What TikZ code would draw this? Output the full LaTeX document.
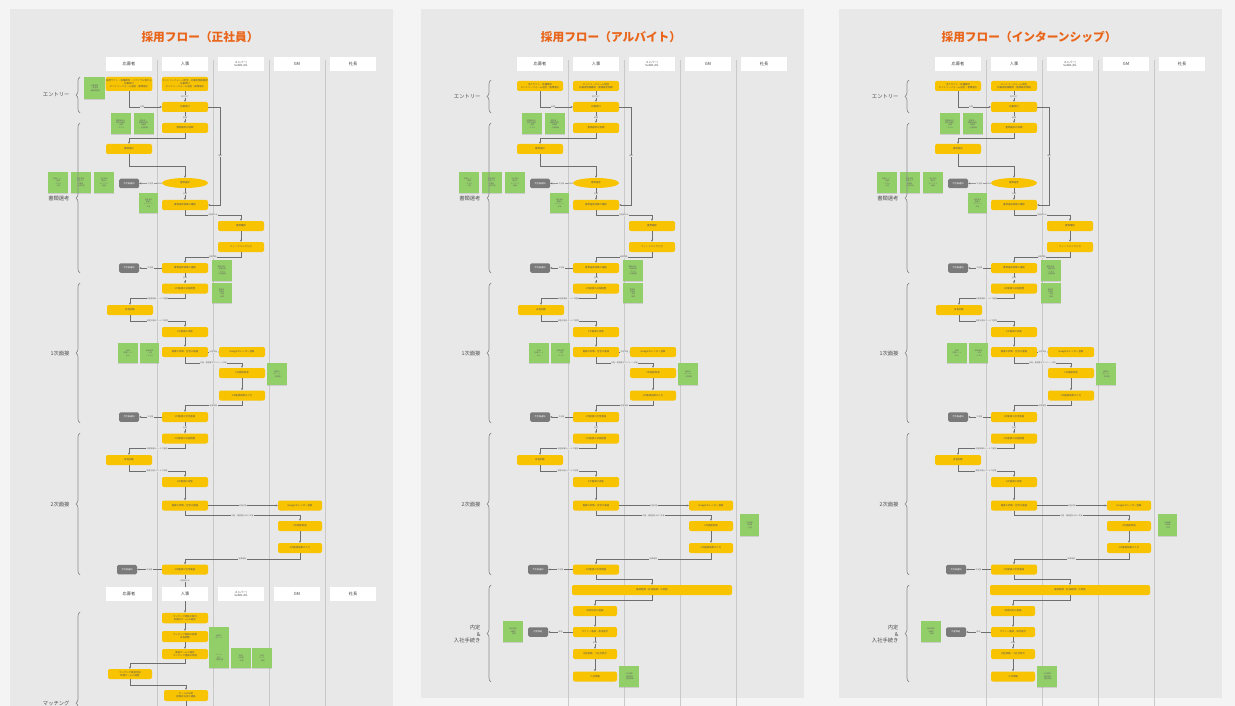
\documentclass[tikz,border=0pt]{standalone}
\usepackage{fontspec}
\setmainfont{Noto Sans CJK JP}
\usetikzlibrary{arrows.meta,decorations.pathreplacing,shadows,shapes.geometric}
\definecolor{canvas}{HTML}{F4F4F4}
\definecolor{panelbg}{HTML}{E8E8E8}
\definecolor{laneline}{HTML}{C9C9C9}
\definecolor{boxy}{HTML}{F8C300}
\definecolor{noteg}{HTML}{93CF68}
\definecolor{grayb}{HTML}{7A7A7A}
\definecolor{titleo}{HTML}{E8651A}
\definecolor{conncol}{HTML}{6E6E6E}
\tikzset{
 hdr/.style={fill=white, minimum width=46pt, minimum height=14pt, inner sep=0pt, font=\fontsize{4.2}{5}\selectfont, text=black!75, align=center},
 hdrs/.style={hdr, font=\fontsize{2.8}{3.6}\selectfont},
 yb/.style={fill=boxy, rounded corners=2pt, minimum width=46pt, minimum height=10pt, inner sep=0.5pt, font=\fontsize{2.4}{3}\selectfont, text=black!65, align=center},
 ye/.style={yb, ellipse, sharp corners},
 gb/.style={fill=grayb, rounded corners=1.5pt, minimum width=20pt, minimum height=9.5pt, inner sep=0pt, font=\fontsize{2.2}{3}\selectfont, text=white},
 note/.style={fill=noteg, minimum width=20pt, minimum height=21pt, inner sep=0.8pt, font=\fontsize{1.8}{2.4}\selectfont, text=black!60, align=center, drop shadow={shadow xshift=0.4pt, shadow yshift=-0.7pt, opacity=0.25}},
 conn/.style={draw=conncol, line width=0.5pt, -{Stealth[length=2.2pt,width=2pt]}},
 plain/.style={draw=conncol, line width=0.5pt},
 lbl/.style={fill=panelbg, inner sep=0.4pt, font=\fontsize{1.9}{2.3}\selectfont, text=black!60},
 brc/.style={draw=black!45, line width=0.7pt, decorate, decoration={brace, amplitude=4pt}},
 phase/.style={font=\fontsize{5.3}{6.5}\selectfont, text=black!70, align=right, anchor=east},
 lane/.style={draw=laneline, line width=0.9pt},
 ptitle/.style={font=\fontsize{11.7}{13}\selectfont\bfseries, text=titleo},
}
% panel frame: #1 title, #2 bottom of panel
\newcommand\panelbase[2]{%
 \fill[panelbg] (10,9) rectangle (393,#2);
 \foreach \lx in {157,213,269,325}{\draw[lane] (\lx,60) -- (\lx,706);}
 \node[ptitle] (title) at (200,37) {#1};
 \node[hdr] (h1) at (129,64) {応募者};
 \node[hdr] (h2) at (185,64) {人事};
 \node[hdrs] (h3) at (241,64) {メンバー/\\SubDL/DL};
 \node[hdr] (h4) at (297,64) {GM};
 \node[hdr] (h5) at (353,64) {社長};
}
% common flow: #1 entry y, #2 entry height, #3 applicant text, #4 HR text, #5 brace top
\newcommand\upperflow[5]{%
 \node[yb, minimum height=#2] (E1) at (129,#1) {#3};
 \node[yb, minimum height=#2] (E2) at (185,#1) {#4};
 \node[yb] (R1) at (185,107) {応募受付};
 \node[yb] (R2) at (185,128) {書類選考の依頼};
 \node[note] (N1) at (120.5,124) {書類選考の\\基準を確認\\・経験\\・スキル};
 \node[note] (N2) at (143.5,124) {履歴書・\\職務経歴書\\を確認\\・志望動機};
 \node[yb] (A1) at (129,149) {書類提出};
 \node[ye, minimum width=46pt, minimum height=10pt, inner sep=0pt] (EL) at (185,183) {書類選考};
 \node[gb] (G1) at (129,183.5) {不合格通知};
 \node[note] (N3) at (57.5,182.5) {評価シート\\・経験\\・スキル\\・人物};
 \node[note] (N4) at (80.5,182.5) {選考基準\\を満たす\\か確認\\・合否判定};
 \node[note] (N5) at (104,182.5) {不合格の\\場合は\\テンプレで\\連絡};
 \node[yb] (R3) at (185,205) {書類選考結果の確認};
 \node[note, minimum width=19pt, minimum height=20pt] (N6) at (148.5,203) {合格者の\\情報を\\メンバーへ\\共有};
 \node[yb] (M1) at (241,226) {書類確認};
 \node[yb] (M2) at (241,247) {フィードバック入力};
 \node[yb] (R4) at (185,268) {書類選考結果の連絡};
 \node[gb] (G2) at (129,268) {不合格通知};
 \node[note] (N7) at (221.5,270.5) {確認項目\\・経験年数\\・スキル\\・志望動機};
 \node[note, minimum height=20pt] (N8) at (221.5,293) {面接官\\の選定\\・日程\\・場所};
 \node[yb] (R5) at (185,288.5) {1次面接の日程調整};
 \node[yb] (A2) at (130,310) {日程回答};
 \node[yb] (R6) at (185,332) {1次面接の実施};
 \node[yb] (R7) at (185,352) {面接の評価・合否の連絡};
 \node[yb] (M3) at (242,352) {Googleカレンダー登録};
 \node[note, minimum height=20pt] (N9) at (128,353) {面接\\評価シート\\記入};
 \node[note, minimum width=19pt, minimum height=20pt] (N10) at (149.5,353) {評価基準\\・人物\\・スキル};
 \node[yb] (M4) at (242,373) {1次面接実施};
 \node[note, minimum height=22pt] (N11) at (277,374) {面接の\\ポイント\\・質問例};
 \node[yb] (M5) at (242,395.5) {1次面接結果の入力};
 \node[yb] (R8) at (185,417) {1次面接の合否連絡};
 \node[gb] (G3) at (129,417) {不合格通知};
 \node[yb] (R9) at (185,438.5) {2次面接の日程調整};
 \node[yb] (A3) at (129,460) {日程回答};
 \node[yb] (R10) at (185,482) {2次面接の実施};
 \node[yb] (R11) at (185,505.5) {面接の評価・合否の連絡};
 \node[yb, minimum width=44pt] (GM1) at (300,505.5) {Googleカレンダー登録};
 \node[yb, minimum width=44pt] (GM2) at (300,526) {2次面接実施};
 \node[yb, minimum width=44pt] (GM3) at (300,548) {2次面接結果の入力};
 \node[yb] (R12) at (185,569.5) {2次面接の合否連絡};
 \node[gb] (G4) at (127,569.5) {不合格通知};
 % connectors
 \draw[conn] (E2) -- node[lbl]{受付完了} (R1);
 \draw[conn] (E1.south) |- node[lbl,pos=0.7]{応募} (R1.west);
 \draw[conn] (R1.east) -- ++(12,0) |- node[lbl,pos=0.25]{選考} (R3.east);
 \draw[conn] (R1) -- node[lbl]{依頼} (R2);
 \draw[conn] (R2.south) -- ++(0,5) -| (A1.north);
 \draw[conn] (A1.south) -- ++(0,12) -| (EL.north);
 \draw[conn] (EL) -- node[lbl]{不合格} (G1);
 \draw[conn] (EL) -- node[lbl]{合格} (R3);
 \draw[conn] (R3.south) -- ++(0,5) -| node[lbl,pos=0.25]{合格者のみ} (M1.north);
 \draw[conn] (M1) -- (M2);
 \draw[conn] (M2.south) -- ++(0,5) -| node[lbl,pos=0.25]{結果報告} (R4.north);
 \draw[conn] (R4) -- node[lbl]{不合格} (G2);
 \draw[conn] (R4) -- node[lbl]{合格} (R5);
 \draw[conn] (R5.south) -- ++(0,5) -| node[lbl,pos=0.25]{日程候補をメールで連絡} (A2.north);
 \draw[conn] (A2.south) -- ++(0,6) -| node[lbl,pos=0.25]{希望日程をメールで回答} (R6.north);
 \draw[conn] (R6) -- (R7);
 \draw[conn] (R7) -- node[lbl]{日程共有} (M3);
 \draw[conn] (R7.south) -- ++(0,6) -| node[lbl,pos=0.25]{日程・履歴書をメンバーへ共有} (M4.north);
 \draw[conn] (M4) -- (M5);
 \draw[conn] (M5.south) -- ++(0,5) -| node[lbl,pos=0.25]{結果報告} (R8.north);
 \draw[conn] (R8) -- node[lbl]{不合格} (G3);
 \draw[conn] (R8) -- node[lbl]{合格} (R9);
 \draw[conn] (R9.south) -- ++(0,5) -| node[lbl,pos=0.25]{日程候補をメールで連絡} (A3.north);
 \draw[conn] (A3.south) -- ++(0,6) -| node[lbl,pos=0.25]{希望日程をメールで回答} (R10.north);
 \draw[conn] (R10) -- (R11);
 \draw[conn] (R11) -- node[lbl]{日程共有} (GM1);
 \draw[conn] (R11.south) -- ++(0,5) -| node[lbl,pos=0.25]{日程・履歴書をGMへ共有} (GM2.north);
 \draw[conn] (GM2) -- (GM3);
 \draw[conn] (GM3.south) -- ++(0,6) -| node[lbl,pos=0.25]{結果報告} (R12.north);
 \draw[conn] (R12) -- node[lbl]{不合格} (G4);
 % phases
 \draw[brc] (80,113) -- (80,#5);
 \node[phase] (ph1) at (73,{(113+#5)/2}) {エントリー};
 \draw[brc] (80,273) -- (80,123);
 \node[phase] (ph2) at (73,198) {書類選考};
 \draw[brc] (80,423) -- (80,283);
 \node[phase] (ph3) at (73,353) {1次面接};
 \draw[brc] (80,575) -- (80,433);
 \node[phase] (ph4) at (73,504) {2次面接};
}
% lower part, part-time / internship
\newcommand\lowerB{%
 \node[note, minimum width=19pt, minimum height=22pt] (N12) at (338.5,525) {GM面接\\の評価\\・合否};
 \node[yb, minimum width=160pt] (W) at (241,590) {最終面接（社長面接）の実施};
 \node[yb, minimum width=44pt] (P1) at (184,611) {採用決定の連絡};
 \node[yb, minimum width=44pt] (P2) at (184,632) {オファー面談・条件提示};
 \node[gb] (G5) at (127,632) {内定辞退};
 \node[note] (N13) at (102,631.5) {辞退理由\\の確認\\・記録};
 \node[yb, minimum width=44pt] (P3) at (184,654) {内定承諾・入社手続き};
 \node[yb, minimum width=44pt] (P4) at (184,676.5) {入社準備};
 \node[note] (N14) at (218,676.5) {入社書類\\・雇用契約\\・備品準備};
 \draw[conn] (R12.south) -- ++(0,5) -| (W.north);
 \draw[conn] (W.south) -- ++(0,5) -| (P1.north);
 \draw[conn] (P1) -- (P2);
 \draw[conn] (P2) -- node[lbl]{辞退} (G5);
 \draw[conn] (P2) -- node[lbl]{承諾} (P3);
 \draw[conn] (P3) -- (P4);
 \draw[brc] (80,682) -- (80,585);
 \node[phase] (ph5) at (73,634) {内定\\\&\\入社手続き};
}
\begin{document}
\begin{tikzpicture}[x=1pt,y=-1pt]
\useasboundingbox (0,0) rectangle (1235,706);
\clip (0,0) rectangle (1235,706);
\fill[canvas] (0,0) rectangle (1235,706);
% ---------------- panel 1 ----------------
\begin{scope}[name prefix=a-]
 \panelbase{採用フロー（正社員）}{720}
 \node[note, minimum width=21pt, minimum height=22pt] (NE) at (94.5,88) {応募書類\\・履歴書\\・職務経歴書};
 \upperflow{84}{14pt}{採用サイト・各種媒体・リファラル等から\\応募受付\\エントリーフォーム送信・書類提出}{エントリーフォーム受信・応募者情報確認\\応募受付\\エントリーフォーム送信・書類提出}{77}
 \node[yb, minimum height=10.5pt] (L1) at (185,618) {マッチング面談の案内\\配属先チームの選定};
 \node[yb, minimum height=11pt] (L2) at (185,636.5) {マッチング面談の調整\\日程調整};
 \node[yb] (L3) at (185,654) {面談チームの選定\\マッチング面談の実施};
 \node[yb, minimum width=44pt] (LA) at (130,674) {マッチング面談参加\\希望チームの回答};
 \node[yb, minimum width=44pt, minimum height=11pt] (L4) at (186,695.5) {チームの決定\\配属先決定の連絡};
 \node[note, minimum height=20pt] (N15) at (219,637) {面談の\\ポイント};
 \node[note] (N16) at (219,657.5) {チーム\\紹介\\・業務内容};
 \node[note, minimum height=20pt] (N17) at (241,658) {面談\\の記録\\・所感};
 \node[note, minimum height=20pt] (N18) at (262,658) {希望\\チーム\\・理由};
 \coordinate (Lend) at (186,720);
 \draw[conn] (R12) -- node[lbl,pos=0.16]{合格者のみ} (L1);
 \draw[conn] (L1) -- (L2);
 \draw[conn] (L2) -- (L3);
 \draw[conn] (L3.south) -- ++(0,4) -| (LA.north);
 \draw[conn] (LA.south) -- ++(0,6) -| (L4.north);
 \draw[plain] (L4.south) -- (Lend);
 \node[hdr] (k1) at (129,594) {応募者};
 \node[hdr] (k2) at (185,594) {人事};
 \node[hdrs] (k3) at (241,594) {メンバー/\\SubDL/DL};
 \node[hdr] (k4) at (297,594) {GM};
 \node[hdr] (k5) at (353,594) {社長};
 \draw[brc] (80,794) -- (80,612);
 \node[phase] (ph6) at (73,703) {マッチング};
\end{scope}
% ---------------- panel 2 ----------------
\begin{scope}[xshift=411pt, name prefix=b-]
 \panelbase{採用フロー（アルバイト）}{698}
 \upperflow{86}{10pt}{求人サイト・各種媒体\\エントリーフォーム送信・書類提出}{エントリーフォーム受信\\応募者情報確認・書類選考依頼}{80}
 \lowerB
\end{scope}
% ---------------- panel 3 ----------------
\begin{scope}[xshift=829pt, name prefix=c-]
 \panelbase{採用フロー（インターンシップ）}{698}
 \upperflow{86}{10pt}{求人サイト・各種媒体\\エントリーフォーム送信・書類提出}{エントリーフォーム受信\\応募者情報確認・書類選考依頼}{80}
 \lowerB
\end{scope}
\end{tikzpicture}
\end{document}
